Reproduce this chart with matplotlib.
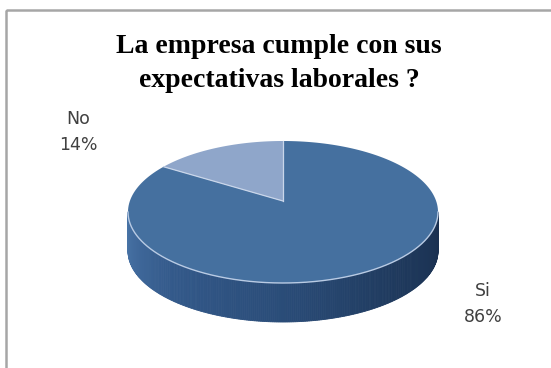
import numpy as np
import matplotlib.pyplot as plt
from matplotlib.patches import Polygon, Rectangle
from matplotlib.colors import LinearSegmentedColormap

# Datos de la encuesta
categorias = ['Si', 'No']
porcentajes = [86, 14]
colores_tapa = ['#45709f', '#8fa6ca']
titulo = ['La empresa cumple con sus', 'expectativas laborales ?']

# Geometría del pastel 3D (en pixeles de la figura)
cx, cy = 283, 212
rx, ry = 155, 71
grosor = 39
cy_vertice = 201  # la perspectiva sube el centro visible

fig = plt.figure(figsize=(5.51, 3.68), dpi=100)
ax = fig.add_axes([0, 0, 1, 1])
ax.set_xlim(0, 551)
ax.set_ylim(368, 0)
ax.axis('off')

# marco del gráfico
ax.add_patch(Rectangle((6, 10), 600, 400, fill=False, edgecolor='#a6a6a6', lw=1.8))


def punto(t, dy=0):
    return cx + rx * np.cos(t), cy - ry * np.sin(t) + dy


# ángulos de cada porción: empieza a las 12 y gira en sentido horario
fracs = np.array(porcentajes) / sum(porcentajes)
limites = np.pi / 2 - 2 * np.pi * np.concatenate([[0], np.cumsum(fracs)])

# pared lateral (sólo la mitad frontal es visible)
sombra = LinearSegmentedColormap.from_list(
    'lado', ['#4a75a8', '#33598a', '#2a4c78', '#1f3a5e', '#1a3050'])
n = 240
ts = np.linspace(np.pi, 2 * np.pi, n + 1)
for i in range(n):
    t0, t1 = ts[i], ts[i + 1]
    x0, y0 = punto(t0)
    x1, y1 = punto(t1)
    c = sombra(i / n)
    ax.add_patch(Polygon([(x0, y0), (x1, y1), (x1, y1 + grosor), (x0, y0 + grosor)],
                         closed=True, facecolor=c, edgecolor=c, lw=0.6))

# tapa superior
for k, cat in enumerate(categorias):
    a0, a1 = limites[k], limites[k + 1]
    tt = np.linspace(a0, a1, 200)
    xs, ys = punto(tt)
    verts = [(cx, cy_vertice)] + list(zip(xs, ys))
    ax.add_patch(Polygon(verts, closed=True, facecolor=colores_tapa[k],
                         edgecolor='none', zorder=3))
    # borde claro entre porciones
    bx, by = punto(a0)
    ax.plot([cx, bx], [cy_vertice, by], color='#c9d6ea', lw=0.9, zorder=4)

# brillo del borde frontal
tt = np.linspace(np.pi, 2 * np.pi, 300)
xs, ys = punto(tt)
ax.plot(xs, ys, color='#b9cbe4', lw=1.0, zorder=4)

# título en dos líneas
for linea, yb in zip(titulo, [53, 87]):
    ax.text(279, yb, linea, ha='center', va='baseline', fontsize=20,
            fontweight='bold', family='Liberation Serif', color='#000000')

# etiquetas de datos
posiciones = {'Si': (483, 304), 'No': (78, 132)}
for cat, val in zip(categorias, porcentajes):
    x, y = posiciones[cat]
    ax.text(x, y, f'{cat}\n{val}%', ha='center', va='center', fontsize=12.5,
            color='#404040', family='DejaVu Sans', linespacing=1.6)

fig.savefig('out.png', dpi=100)
